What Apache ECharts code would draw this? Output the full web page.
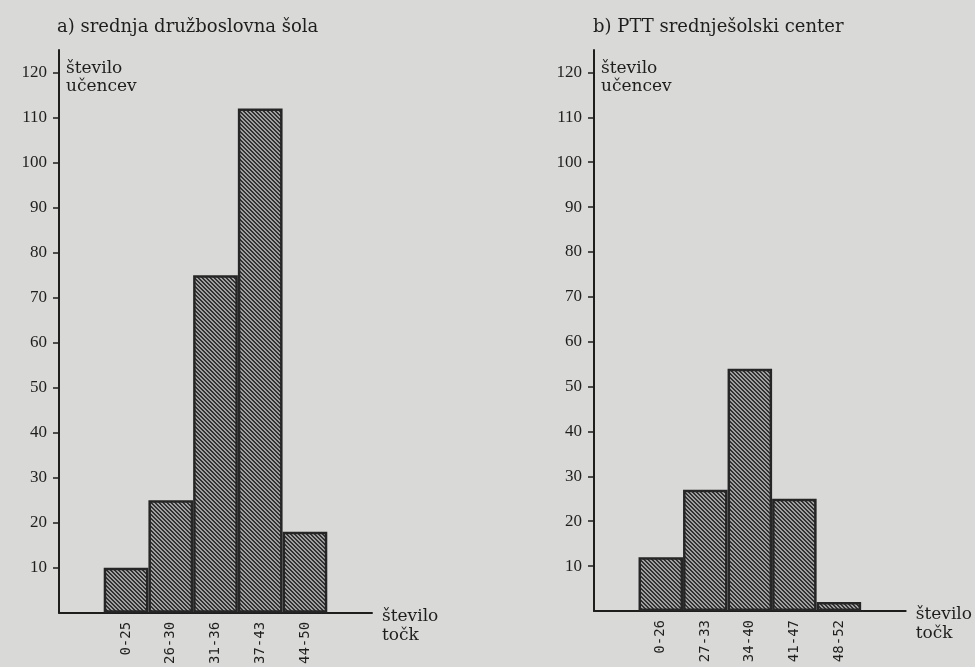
<!DOCTYPE html>
<html>
<head>
<meta charset="utf-8">
<script src="https://cdn.jsdelivr.net/npm/echarts@6/dist/echarts.min.js"></script>
<style>
  html, body { margin: 0; padding: 0; background: #d9d9d7; }
  #chart { width: 975px; height: 667px; }
</style>
</head>
<body>
<div id="chart"></div>
<script>
// ---- data ----
const leftTitle = 'a) srednja družboslovna šola';
const rightTitle = 'b) PTT srednješolski center';
const leftCategories = ['0-25', '26-30', '31-36', '37-43', '44-50'];
const leftValues = [10, 25, 75, 112, 18];
const rightCategories = ['0-26', '27-33', '34-40', '41-47', '48-52'];
const rightValues = [12, 27, 54, 25, 2];
const yTickValues = [10, 20, 30, 40, 50, 60, 70, 80, 90, 100, 110, 120];
const yName = 'število\nučencev';
const xName = 'število\ntočk';

// ---- hatch pattern ----
function makeHatch() {
  const n = 4;
  const c = document.createElement('canvas');
  c.width = n; c.height = n;
  const ctx = c.getContext('2d');
  const img = ctx.createImageData(n, n);
  for (let y = 0; y < n; y++) {
    for (let x = 0; x < n; x++) {
      const k = ((x - y) % n + n) % n;
      const v = (k === 0 || k === 1) ? 50 : 160;
      const i = (y * n + x) * 4;
      img.data[i] = v; img.data[i + 1] = v; img.data[i + 2] = v; img.data[i + 3] = 255;
    }
  }
  ctx.putImageData(img, 0, 0);
  return c;
}
const hatch = makeHatch();

const ink = '#1e1e1e';
const serif = 'DejaVu Serif';

function padCats(cats) { return [''].concat(cats, ['']); }
function padVals(vals) { return [null].concat(vals, [null]); }

function xAxisFor(gridIndex, cats) {
  return {
    type: 'category', gridIndex: gridIndex,
    data: padCats(cats),
    boundaryGap: true,
    axisLine: { show: true, lineStyle: { color: ink, width: 2 } },
    axisTick: { show: false },
    axisLabel: {
      rotate: 90, margin: 9, interval: 0,
      fontFamily: 'DejaVu Sans Mono', fontSize: 14, color: ink
    },
    splitLine: { show: false },
    name: xName, nameLocation: 'end', nameGap: 10,
    nameTextStyle: {
      fontFamily: serif, fontSize: 17, color: ink, lineHeight: 19,
      align: 'left', verticalAlign: 'top', padding: [-6, 0, 0, 0]
    }
  };
}
function yAxisFor(gridIndex) {
  return {
    type: 'value', gridIndex: gridIndex,
    min: 0, max: 125, interval: 10,
    axisLine: { show: true, lineStyle: { color: ink, width: 2 } },
    axisTick: { show: true, length: 6, lineStyle: { color: ink, width: 1.5 }, customValues: yTickValues },
    axisLabel: { margin: 12, fontFamily: 'Liberation Serif', fontSize: 17, color: ink, customValues: yTickValues },
    splitLine: { show: false },
    name: yName, nameLocation: 'end', nameGap: -28,
    nameTextStyle: {
      fontFamily: serif, fontSize: 17, color: ink, lineHeight: 18,
      align: 'left', verticalAlign: 'middle', padding: [0, 0, 0, 7]
    }
  };
}
function barSeries(idx, vals) {
  return {
    type: 'bar', xAxisIndex: idx, yAxisIndex: idx,
    data: padVals(vals),
    barCategoryGap: '0%',
    itemStyle: {
      color: { image: hatch, repeat: 'repeat' },
      borderColor: '#262626', borderWidth: 2.5
    },
    emphasis: { disabled: true },
    animation: false
  };
}

const chart = echarts.init(document.getElementById('chart'), null, { renderer: 'canvas' });
chart.setOption({
  backgroundColor: '#d9d9d7',
  animation: false,
  title: [
    { text: leftTitle, left: 52, top: 13, textStyle: { fontFamily: serif, fontSize: 18, fontWeight: 'normal', color: ink } },
    { text: rightTitle, left: 588, top: 13, textStyle: { fontFamily: serif, fontSize: 18, fontWeight: 'normal', color: ink } }
  ],
  grid: [
    { left: 59, top: 50, width: 313, bottom: 54 },
    { left: 594, top: 50, width: 313, bottom: 56 }
  ],
  xAxis: [xAxisFor(0, leftCategories), xAxisFor(1, rightCategories)],
  yAxis: [yAxisFor(0), yAxisFor(1)],
  series: [barSeries(0, leftValues), barSeries(1, rightValues)]
});
</script>
</body>
</html>
